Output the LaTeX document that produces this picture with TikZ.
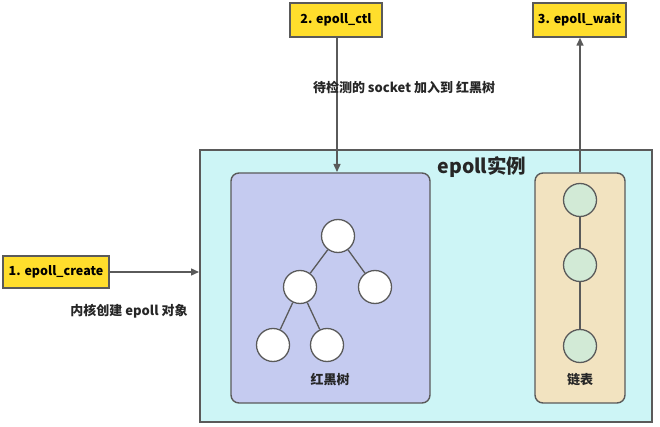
\documentclass[tikz,border=0pt]{standalone}
\usepackage{fontspec}
\setmainfont{Noto Sans CJK SC}
\usetikzlibrary{arrows.meta}
\definecolor{instfill}{RGB}{205,245,246}
\definecolor{treefill}{RGB}{197,203,240}
\definecolor{listfill}{RGB}{242,227,192}
\definecolor{lnode}{RGB}{210,234,214}
\definecolor{yel}{RGB}{255,222,44}
\definecolor{edge}{RGB}{90,90,90}
\tikzset{
  apibox/.style={draw=edge, line width=1.4pt, fill=yel, inner sep=0pt, font=\fontsize{12.5}{14}\selectfont\bfseries},
  tnode/.style={circle, draw=edge, line width=1.3pt, fill=white, minimum size=33pt, inner sep=0pt},
  lnodes/.style={circle, draw=edge, line width=1.3pt, fill=lnode, minimum size=33pt, inner sep=0pt},
  conn/.style={draw=edge, line width=1.4pt, -{Triangle[length=8pt,width=7pt]}},
  tedge/.style={draw=edge, line width=1.3pt},
  lbl/.style={font=\fontsize{13}{15}\selectfont\bfseries, text=black!85},
}
\begin{document}
\begin{tikzpicture}[x=1pt,y=-1pt]
\useasboundingbox (0,0) rectangle (660,427);
% epoll instance
\node[draw=edge, line width=1.4pt, fill=instfill, minimum width=452pt, minimum height=272pt, inner sep=0pt] (inst) at (426,286) {};
\node[font=\fontsize{19.5}{22}\selectfont\bfseries, text=black!85] (title) at (482,167) {epoll实例};
% red-black tree box
\node[draw=edge, line width=1.4pt, rounded corners=8pt, fill=treefill, minimum width=199pt, minimum height=230pt, inner sep=0pt] (tree) at (330.5,288) {};
\node[tnode] (r) at (338,236) {};
\node[tnode] (a) at (300,287) {};
\node[tnode] (b) at (375,287) {};
\node[tnode] (c) at (273,345) {};
\node[tnode] (d) at (327,345) {};
\draw[tedge] (r) -- (a);
\draw[tedge] (r) -- (b);
\draw[tedge] (a) -- (c);
\draw[tedge] (a) -- (d);
\node[lbl] (treelbl) at (330,380) {红黑树};
% list box
\node[draw=edge, line width=1.4pt, rounded corners=8pt, fill=listfill, minimum width=90pt, minimum height=230pt, inner sep=0pt] (list) at (580,288) {};
\node[lnodes] (l1) at (580,200) {};
\node[lnodes] (l2) at (580,265) {};
\node[lnodes] (l3) at (580,346) {};
\draw[tedge] (l1) -- (l2);
\draw[tedge] (l2) -- (l3);
\node[lbl] (listlbl) at (580,380) {链表};
% api boxes
\node[apibox, minimum width=106pt, minimum height=32pt] (create) at (56,272) {1. epoll\_create};
\node[apibox, minimum width=92pt, minimum height=34pt] (ctl) at (336,20) {2. epoll\_ctl};
\node[apibox, minimum width=93pt, minimum height=34pt] (wait) at (579.5,20) {3. epoll\_wait};
% connectors
\coordinate (instL) at (199,272);
\draw[conn] (create) -- (instL);
\coordinate (treeT) at (337,172);
\draw[conn] (ctl.south -| treeT) -- (treeT);
\draw[conn] (list.north) -- (wait.south -| list.north);
% labels
\node[lbl] (createlbl) at (129,311) {内核创建 epoll 对象};
\node[lbl] (ctllbl) at (404,88) {待检测的 socket 加入到 红黑树};
\end{tikzpicture}
\end{document}
